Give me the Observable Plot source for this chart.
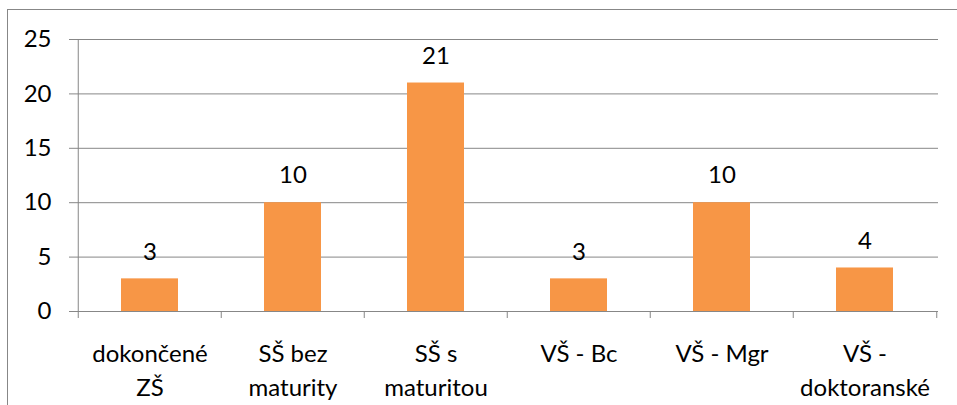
<!DOCTYPE html>
<html>
<head>
<meta charset="utf-8">
<script src="https://cdn.jsdelivr.net/npm/d3@7"></script>
<script src="https://cdn.jsdelivr.net/npm/@observablehq/plot@0.6"></script>
<style>
  html, body { margin: 0; padding: 0; background: #fff; overflow: hidden; }
  #wrap { position: relative; width: 957px; height: 405px; }
  #border { position: absolute; left: 7px; top: 9px; width: 1000px; height: 500px;
            border-left: 1.3px solid #878787; border-top: 1.3px solid #878787; pointer-events: none; }
</style>
</head>
<body>
<div id="wrap"><div id="border"></div></div>
<script>
const categories = ["dokončené ZŠ", "SŠ bez maturity", "SŠ s maturitou", "VŠ - Bc", "VŠ - Mgr", "VŠ - doktoranské"];
const tickLabels = ["dokončené\nZŠ", "SŠ bez\nmaturity", "SŠ s\nmaturitou", "VŠ - Bc", "VŠ - Mgr", "VŠ -\ndoktoranské"];
const values = [3, 10, 21, 3, 10, 4];
const yTicks = [0, 5, 10, 15, 20, 25];

const data = categories.map((c, i) => ({cat: c, value: values[i], label: tickLabels[i]}));

const W = 957, H = 405;
const mL = 77, mR = 19, mT = 39, mB = 94;
const step = (W - mL - mR) / categories.length;
const gray = "#878787";
const font = "Lato, 'Open Sans', sans-serif";
const fs = 24;

const chart = Plot.plot({
  width: W,
  height: H,
  marginLeft: mL,
  marginRight: mR,
  marginTop: mT,
  marginBottom: mB,
  style: {fontFamily: font, fontSize: fs + "px", color: "#000", background: "transparent"},
  x: {domain: categories, paddingInner: 0.6, paddingOuter: 0.3, label: null},
  y: {domain: [0, 25], label: null},
  marks: [
    Plot.ruleY(yTicks, {stroke: gray, strokeWidth: 1, strokeOpacity: 1}),
    Plot.axisY({ticks: yTicks, tickSize: 8, tickPadding: 18, stroke: gray, strokeOpacity: 1, fill: "#000", fontSize: fs, label: null}),
    Plot.ruleX([0], {x: () => categories[0], dx: -step / 2, y1: 0, y2: 25, stroke: gray}),
    Plot.axisX({tickSize: 7, dx: -step / 2, tickFormat: () => "", stroke: gray, strokeOpacity: 1, label: null}),
    Plot.axisX({ticks: [categories[categories.length - 1]], tickSize: 7, dx: step / 2, tickFormat: () => "", stroke: gray, strokeOpacity: 1, label: null}),
    Plot.axisX({tickSize: 0, tickPadding: 26, tickFormat: (d) => tickLabels[categories.indexOf(d)], lineHeight: 1.42, fontSize: fs, fill: "#000", label: null}),
    Plot.barY(data, {x: "cat", y: "value", fill: "#F79646"}),
    Plot.text(data, {x: "cat", y: "value", text: (d) => String(d.value), lineAnchor: "middle", dy: -27, fontSize: fs, fill: "#000"})
  ]
});
chart.style.position = "absolute";
chart.style.left = "0";
chart.style.top = "0";
document.getElementById("wrap").prepend(chart);
</script>
</body>
</html>
